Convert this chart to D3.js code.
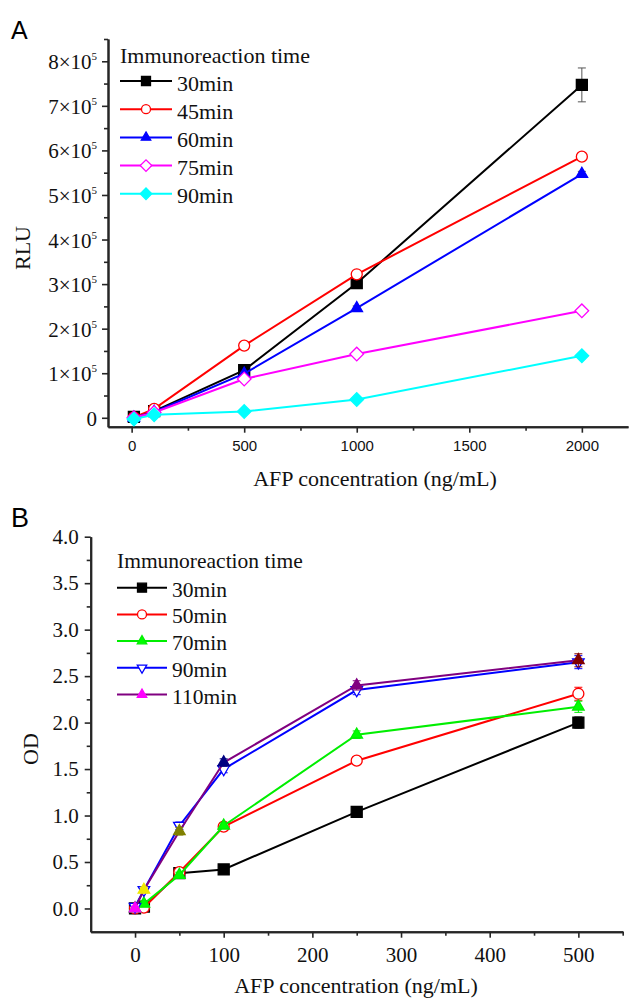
<!DOCTYPE html>
<html><head><meta charset="utf-8">
<script src="https://cdn.jsdelivr.net/npm/d3@7"></script>
<style>body{margin:0;background:#fff}
.serif{font-family:"Liberation Serif","Times New Roman","DejaVu Serif",serif}
.sans{font-family:"Liberation Sans",Arial,sans-serif}
</style>
</head><body>
<svg id="c" width="629" height="1000" xmlns="http://www.w3.org/2000/svg"></svg>
<script>
// ---------- Panel A data ----------
const concA = [10, 100, 500, 1000, 2000];
const namesA = ["30min", "45min", "60min", "75min", "90min"];
const rlu30 = [2000, 15000, 107000, 302000, 747000];
const rlu45 = [1000, 20000, 162000, 322000, 586000];
const rlu60 = [0, 13000, 99000, 246000, 547000];
const rlu75 = [0, 12000, 87000, 143000, 240000];
const rlu90 = [-3000, 7000, 14000, 41000, 139000];
const errA30 = [1500, 2000, 5000, 8000, 38000];
const errA45 = [1000, 2000, 4000, 5000, 6000];
const errA60 = [1000, 2000, 3000, 5000, 6000];
const errA75 = [1000, 1500, 3000, 4000, 5000];
const errA90 = [1000, 1500, 2000, 3000, 4000];
const xTicksA = [0, 500, 1000, 1500, 2000];
const yTicksA = [0, 100000, 200000, 300000, 400000, 500000, 600000, 700000, 800000];

// ---------- Panel B data ----------
const concB = [0, 10, 50, 100, 250, 500];
const namesB = ["30min", "50min", "70min", "90min", "110min"];
const od30 = [0.00, 0.02, 0.38, 0.42, 1.04, 2.00];
const od50 = [0.00, 0.01, 0.39, 0.88, 1.59, 2.31];
const od70 = [0.00, 0.05, 0.36, 0.89, 1.87, 2.17];
const od90 = [0.02, 0.20, 0.89, 1.50, 2.35, 2.65];
const od110 = [0.00, 0.20, 0.83, 1.57, 2.40, 2.67];
const errB30 = [0.02, 0.02, 0.03, 0.03, 0.04, 0.06];
const errB50 = [0.02, 0.02, 0.03, 0.03, 0.04, 0.07];
const errB70 = [0.02, 0.02, 0.03, 0.03, 0.04, 0.06];
const errB90 = [0.02, 0.03, 0.04, 0.04, 0.05, 0.07];
const errB110 = [0.02, 0.03, 0.04, 0.04, 0.05, 0.07];
const xTicksB = [0, 100, 200, 300, 400, 500];
const yTicksB = [0.0, 0.5, 1.0, 1.5, 2.0, 2.5, 3.0, 3.5, 4.0];

// ---------- styles ----------
const AXC = "#262626";

const stylesA = [
  {color: "#000000", shape: "square", fill: "#000000"},
  {color: "#ff0000", shape: "circle", fill: "#ffffff"},
  {color: "#0000ff", shape: "triangle", fill: "#0000ff"},
  {color: "#ff00ff", shape: "diamond", fill: "#ffffff"},
  {color: "#00ffff", shape: "diamond", fill: "#00ffff"}
];
const stylesB = [
  {color: "#000000", shape: "square", fill: "#000000"},
  {color: "#ff0000", shape: "circle", fill: "#ffffff"},
  {color: "#00ee00", shape: "triangle", fill: "#00ff00"},
  {color: "#0000ff", shape: "triangleDown", fill: "#ffffff"},
  {color: "#800080", shape: "triangle", fill: "#ff00ff", marker: "#ff00ff"}
];
// per-point marker colours of the 110min series (incremental colour in the original)
const pointColors110 = ["#ff00ff", "#f0e800", "#808000", "#000080", "#800080", "#800000"];

const svg = d3.select("#c");

function symbolPath(shape, s) {
  if (shape === "square") return d3.symbol().type(d3.symbolSquare).size(s * s)();
  if (shape === "circle") return d3.symbol().type(d3.symbolCircle).size(Math.PI * s * s / 4)();
  if (shape === "triangle" || shape === "triangleDown") return d3.symbol().type(d3.symbolTriangle).size(Math.sqrt(3) / 4 * s * s * 1.1)();
  if (shape === "diamond") return d3.symbol().type(d3.symbolSquare).size(s * s * 0.55)();
}
function drawMarker(g, shape, x, y, s, stroke, fill) {
  let rot = 0;
  if (shape === "diamond") rot = 45;
  if (shape === "triangleDown") rot = 180;
  g.append("path").attr("d", symbolPath(shape, s))
    .attr("transform", `translate(${x},${y}) rotate(${rot})`)
    .attr("fill", fill).attr("stroke", stroke).attr("stroke-width", 1.3);
}

function styleAxis(g) {
  g.select(".domain").attr("stroke", AXC).attr("stroke-width", 2);
  g.selectAll(".tick line").attr("stroke", AXC).attr("stroke-width", 1.6);
}
function serifText(sel, size) {
  return sel.attr("font-family", null).attr("class", "serif").style("font-size", size + "px").attr("fill", "#111");
}

// ================= PANEL A =================
const xA = d3.scaleLinear().domain([-105, 2205]).range([108, 628]);
const yA = d3.scaleLinear().domain([-20000, 850000]).range([426.7, 39]);

const gA_xminor = svg.append("g").attr("transform", "translate(0,426.7)")
  .call(d3.axisBottom(xA).tickValues([250, 750, 1250, 1750]).tickSize(4).tickFormat("").tickSizeOuter(0));
styleAxis(gA_xminor);
const gA_yminor = svg.append("g").attr("transform", "translate(108,0)")
  .call(d3.axisLeft(yA).tickValues(d3.range(50000, 850001, 100000)).tickSize(4).tickFormat("").tickSizeOuter(0));
styleAxis(gA_yminor);

const gAx = svg.append("g").attr("transform", "translate(0,426.7)")
  .call(d3.axisBottom(xA).tickValues(xTicksA).tickFormat(d3.format("d")).tickSize(6).tickPadding(8).tickSizeOuter(0));
styleAxis(gAx);
gAx.attr("font-family", null);
gAx.selectAll(".tick text").attr("class", "sans").style("font-size", "15px").attr("fill", "#111");

const gAy = svg.append("g").attr("transform", "translate(108,0)")
  .call(d3.axisLeft(yA).tickValues(yTicksA).tickSize(6).tickPadding(5).tickSizeOuter(0));
styleAxis(gAy);
gAy.attr("font-family", null);
gAy.selectAll(".tick text").each(function(d) {
  const t = d3.select(this);
  t.text(null).attr("dy", "0.36em");
  serifText(t, 21);
  if (d === 0) { t.text("0"); }
  else {
    t.append("tspan").text(`${d / 100000}×10`);
    t.append("tspan").attr("dy", -9).style("font-size", "11px").text("5");
  }
});

const seriesA = [rlu30, rlu45, rlu60, rlu75, rlu90];
const errsA = [errA30, errA45, errA60, errA75, errA90];
const lineA = d3.line().x(d => xA(d[0])).y(d => yA(d[1]));
const plotA = svg.append("g");
seriesA.forEach((vals, i) => {
  const st = stylesA[i];
  const pts = concA.map((c, j) => [c, vals[j]]);
  plotA.append("path").datum(pts).attr("d", lineA).attr("fill", "none")
    .attr("stroke", st.color).attr("stroke-width", 2);
  pts.forEach((p, j) => {
    const e = errsA[i][j], x = xA(p[0]);
    const g = plotA.append("g").attr("stroke", "#555").attr("stroke-width", 1);
    g.append("line").attr("x1", x).attr("x2", x).attr("y1", yA(p[1] - e)).attr("y2", yA(p[1] + e));
    g.append("line").attr("x1", x - 4).attr("x2", x + 4).attr("y1", yA(p[1] - e)).attr("y2", yA(p[1] - e));
    g.append("line").attr("x1", x - 4).attr("x2", x + 4).attr("y1", yA(p[1] + e)).attr("y2", yA(p[1] + e));
  });
  pts.forEach(p => drawMarker(plotA, st.shape, xA(p[0]), yA(p[1]), st.shape === "diamond" ? 13 : 11, st.color, st.fill));
});

// Legend A
const legA = svg.append("g");
serifText(legA.append("text").attr("x", 120).attr("y", 62.7), 22).text("Immunoreaction time");
namesA.forEach((n, i) => {
  const y = 81 + i * 28.2, st = stylesA[i];
  legA.append("line").attr("x1", 120).attr("x2", 172).attr("y1", y).attr("y2", y)
    .attr("stroke", st.color).attr("stroke-width", 2);
  drawMarker(legA, st.shape, 146, y, st.shape === "diamond" ? 11 : 9, st.color, st.fill);
  serifText(legA.append("text").attr("x", 177).attr("y", y + 9.5), 22).text(n);
});

serifText(svg.append("text").attr("x", 375).attr("y", 486).attr("text-anchor", "middle"), 22)
  .text("AFP concentration (ng/mL)");
serifText(svg.append("text").attr("transform", "translate(30,248) rotate(-90)").attr("text-anchor", "middle"), 22)
  .text("RLU");
svg.append("text").attr("x", 11).attr("y", 39).attr("class", "sans").style("font-size", "25px")
  .attr("fill", "#000").text("A");

// ================= PANEL B =================
const xB = d3.scaleLinear().domain([-50, 550]).range([90.7, 622.7]);
const yB = d3.scaleLinear().domain([-0.25, 4.0]).range([931.7, 536.7]);

const gB_xminor = svg.append("g").attr("transform", "translate(0,931.7)")
  .call(d3.axisBottom(xB).tickValues([50, 150, 250, 350, 450, 550]).tickSize(4).tickFormat("").tickSizeOuter(0));
styleAxis(gB_xminor);
const gB_yminor = svg.append("g").attr("transform", "translate(90.7,0)")
  .call(d3.axisLeft(yB).tickValues(d3.range(0.25, 4.0, 0.5)).tickSize(4).tickFormat("").tickSizeOuter(0));
styleAxis(gB_yminor);

const gBx = svg.append("g").attr("transform", "translate(0,931.7)")
  .call(d3.axisBottom(xB).tickValues(xTicksB).tickFormat(d3.format("d")).tickSize(6).tickPadding(9).tickSizeOuter(0));
styleAxis(gBx);
gBx.attr("font-family", null);
gBx.selectAll(".tick text").each(function() { serifText(d3.select(this), 21); });

const gBy = svg.append("g").attr("transform", "translate(90.7,0)")
  .call(d3.axisLeft(yB).tickValues(yTicksB).tickSize(6).tickPadding(6).tickFormat(d3.format(".1f")).tickSizeOuter(0));
styleAxis(gBy);
gBy.attr("font-family", null);
gBy.selectAll(".tick text").each(function() { serifText(d3.select(this), 21); });

const seriesB = [od30, od50, od70, od90, od110];
const errsB = [errB30, errB50, errB70, errB90, errB110];
const lineB = d3.line().x(d => xB(d[0])).y(d => yB(d[1]));
const plotB = svg.append("g");
seriesB.forEach((vals, i) => {
  const st = stylesB[i];
  const pts = concB.map((c, j) => [c, vals[j]]);
  plotB.append("path").datum(pts).attr("d", lineB).attr("fill", "none")
    .attr("stroke", st.color).attr("stroke-width", 2);
  pts.forEach((p, j) => {
    const e = errsB[i][j], x = xB(p[0]);
    const col = i === 4 ? pointColors110[j] : st.color;
    const g = plotB.append("g").attr("stroke", col).attr("stroke-width", 1);
    g.append("line").attr("x1", x).attr("x2", x).attr("y1", yB(p[1] - e)).attr("y2", yB(p[1] + e));
    g.append("line").attr("x1", x - 4).attr("x2", x + 4).attr("y1", yB(p[1] - e)).attr("y2", yB(p[1] - e));
    g.append("line").attr("x1", x - 4).attr("x2", x + 4).attr("y1", yB(p[1] + e)).attr("y2", yB(p[1] + e));
  });
  pts.forEach((p, j) => {
    const stroke = i === 4 ? pointColors110[j] : st.color;
    const fill = i === 4 ? pointColors110[j] : st.fill;
    drawMarker(plotB, st.shape, xB(p[0]), yB(p[1]), 11, stroke, fill);
  });
});

// Legend B
const legB = svg.append("g");
serifText(legB.append("text").attr("x", 117).attr("y", 567.7), 21.5).text("Immunoreaction time");
namesB.forEach((n, i) => {
  const y = 587.7 + i * 26.7, st = stylesB[i];
  legB.append("line").attr("x1", 117).attr("x2", 167).attr("y1", y).attr("y2", y)
    .attr("stroke", st.color).attr("stroke-width", 2);
  drawMarker(legB, st.shape, 142, y, 9, st.marker || st.color, st.fill);
  serifText(legB.append("text").attr("x", 172).attr("y", y + 9), 21.5).text(n);
});

serifText(svg.append("text").attr("x", 356).attr("y", 993).attr("text-anchor", "middle"), 22)
  .text("AFP concentration (ng/mL)");
serifText(svg.append("text").attr("transform", "translate(38,749) rotate(-90)").attr("text-anchor", "middle"), 22)
  .text("OD");
svg.append("text").attr("x", 11).attr("y", 527).attr("class", "sans").style("font-size", "27px")
  .attr("fill", "#000").text("B");
</script>
</body></html>
